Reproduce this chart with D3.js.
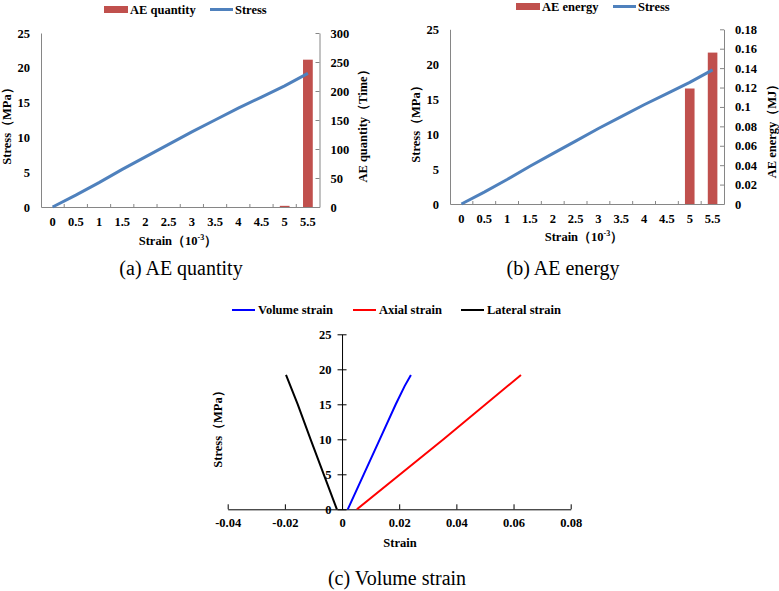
<!DOCTYPE html>
<html>
<head>
<meta charset="utf-8">
<script src="https://d3js.org/d3.v7.min.js"></script>
<style>
body { margin: 0; background: #fff; }
text { font-family: "Liberation Serif", "Times New Roman", serif; fill: #000; }
.bold { font-weight: bold; }
</style>
</head>
<body>
<div id="chart"></div>
<script>
// strain categories (10^-3) shared by panels a and b
var strainCats = ["0", "0.5", "1", "1.5", "2", "2.5", "3", "3.5", "4", "4.5", "5", "5.5"];
var stressVals = [0, 1.7, 3.5, 5.4, 7.2, 9.0, 10.8, 12.5, 14.2, 15.8, 17.4, 19.2];
var aeQuantity = [0, 0, 0, 0, 0, 0, 0, 0, 0, 0, 2, 254];
var aeEnergy = [0, 0, 0, 0, 0, 0, 0, 0, 0, 0, 0.119, 0.156];

var stressTicks = [0, 5, 10, 15, 20, 25];
var quantityTicks = [0, 50, 100, 150, 200, 250, 300];
var energyTicks = [0, 0.02, 0.04, 0.06, 0.08, 0.1, 0.12, 0.14, 0.16, 0.18];

// panel c: [strain, stress]
var volumeStrain = [[0.002, 0], [0.0076, 5], [0.0132, 10], [0.0188, 15], [0.0219, 17.6], [0.0241, 19.2]];
var axialStrain = [[0.0052, 0], [0.0355, 10], [0.0626, 19.2]];
var lateralStrain = [[-0.0018, 0], [-0.0064, 5], [-0.011, 10], [-0.0155, 15], [-0.0196, 19.2]];
var strainTicks = [-0.04, -0.02, 0, 0.02, 0.04, 0.06, 0.08];

var barColor = "#C0504D",
    lineColor = "#4F81BD",
    axisGray = "#868686",
    fs = 12.5;

var fmt = function (d) { return d3.format("~g")(d).replace("−", "-"); };

var svg = d3.select("#chart").append("svg")
    .attr("width", 779)
    .attr("height", 591);

function styleAxis(sel, color) {
    sel.select(".domain").attr("stroke", color);
    sel.selectAll(".tick line").attr("stroke", color);
    sel.selectAll(".tick text")
        .attr("class", "bold")
        .style("font-size", fs + "px")
        .style("font-family", "'Liberation Serif', serif")
        .attr("fill", "#000");
}

function strainTitle(g, x, y) {
    var t = g.append("text").attr("class", "bold")
        .attr("x", x).attr("y", y)
        .attr("text-anchor", "middle")
        .attr("dominant-baseline", "central")
        .style("font-size", fs + "px");
    t.append("tspan").text("Strain（10");
    t.append("tspan").attr("dy", -4).style("font-size", "8px").text("-3");
    t.append("tspan").attr("dy", 4).text("）");
}

function vTitle(g, x, y, txt) {
    g.append("text").attr("class", "bold")
        .attr("transform", "translate(" + x + "," + y + ") rotate(-90)")
        .attr("text-anchor", "middle")
        .attr("dominant-baseline", "central")
        .style("font-size", fs + "px")
        .text(txt);
}

function dualPanel(cfg) {
    var g = svg.append("g");
    var x = d3.scaleBand().domain(strainCats).range([cfg.left, cfg.right]);
    var bw = x.bandwidth();
    var yL = d3.scaleLinear().domain([0, 25]).range([cfg.bottom, cfg.top]);
    var yR = d3.scaleLinear().domain([0, cfg.rMax]).range([cfg.bottom, cfg.top]);

    // bars
    g.selectAll("rect.bar")
        .data(cfg.bars)
        .join("rect")
        .attr("class", "bar")
        .attr("x", function (d, i) { return x(strainCats[i]) + bw * 0.29; })
        .attr("width", bw * 0.42)
        .attr("y", function (d) { return yR(d); })
        .attr("height", function (d) { return cfg.bottom - yR(d); })
        .attr("fill", barColor);

    // axes
    var ax = g.append("g").attr("transform", "translate(" + cfg.left + ",0)")
        .call(d3.axisLeft(yL).tickValues(stressTicks).tickSize(0).tickPadding(11));
    styleAxis(ax, axisGray);

    var ar = g.append("g").attr("transform", "translate(" + cfg.right + ",0)")
        .call(d3.axisRight(yR).tickValues(cfg.rTicks).tickSizeInner(-4).tickSizeOuter(0)
            .tickPadding(11).tickFormat(fmt));
    styleAxis(ar, axisGray);

    var ab = g.append("g").attr("transform", "translate(0," + cfg.bottom + ")")
        .call(d3.axisBottom(x).tickSize(0).tickPadding(cfg.xPad));
    styleAxis(ab, axisGray);
    ab.selectAll(".tick line").remove();

    // category boundary ticks
    g.selectAll("line.bt")
        .data(strainCats.slice(1))
        .join("line")
        .attr("x1", function (d) { return x(d); })
        .attr("x2", function (d) { return x(d); })
        .attr("y1", cfg.bottom)
        .attr("y2", cfg.bottom - 3)
        .attr("stroke", axisGray);

    // stress line
    var line = d3.line()
        .x(function (d, i) { return x(strainCats[i]) + bw / 2; })
        .y(function (d) { return yL(d); });
    g.append("path")
        .datum(stressVals)
        .attr("d", line)
        .attr("fill", "none")
        .attr("stroke", lineColor)
        .attr("stroke-width", 3);

    // titles
    vTitle(g, cfg.lTitleX, cfg.lTitleY, "Stress（MPa）");
    vTitle(g, cfg.rTitleX, cfg.rTitleY, cfg.rTitle);
    strainTitle(g, cfg.sx, cfg.sy);

    // legend
    var ly = cfg.legY;
    g.append("rect").attr("x", cfg.legX).attr("y", ly - 3.5).attr("width", 24).attr("height", 7).attr("fill", barColor);
    g.append("text").attr("class", "bold").attr("x", cfg.legX + 26).attr("y", ly)
        .attr("dominant-baseline", "central").style("font-size", fs + "px").text(cfg.legLabel);
    g.append("line").attr("x1", cfg.legX2).attr("x2", cfg.legX2 + 23).attr("y1", ly).attr("y2", ly)
        .attr("stroke", lineColor).attr("stroke-width", 3);
    g.append("text").attr("class", "bold").attr("x", cfg.legX2 + 25).attr("y", ly)
        .attr("dominant-baseline", "central").style("font-size", fs + "px").text("Stress");

    // caption
    g.append("text").attr("x", cfg.capX).attr("y", 268)
        .attr("text-anchor", "middle").attr("dominant-baseline", "central")
        .style("font-size", "20px").text(cfg.caption);
}

dualPanel({
    left: 41, right: 319.5, top: 33, bottom: 207, xPad: 10,
    bars: aeQuantity, rMax: 300, rTicks: quantityTicks,
    rTitle: "AE quantity（Time）",
    lTitleX: 7, lTitleY: 123, rTitleX: 363, rTitleY: 123,
    sx: 178, sy: 241,
    legX: 104, legX2: 210, legY: 9.5, legLabel: "AE quantity",
    capX: 181, caption: "(a) AE quantity"
});

dualPanel({
    left: 450, right: 724, top: 29.3, bottom: 204, xPad: 10,
    bars: aeEnergy, rMax: 0.18, rTicks: energyTicks,
    rTitle: "AE energy（MJ）",
    lTitleX: 416, lTitleY: 121, rTitleX: 772, rTitleY: 128,
    sx: 584, sy: 237,
    legX: 516, legX2: 613, legY: 6.5, legLabel: "AE energy",
    capX: 563, caption: "(b) AE energy"
});

// panel c
var gc = svg.append("g");
var xc = d3.scaleLinear().domain([-0.04, 0.08]).range([227.7, 570.7]);
var yc = d3.scaleLinear().domain([0, 25]).range([509.3, 334.3]);

var axc = gc.append("g").attr("transform", "translate(0," + yc(0) + ")")
    .call(d3.axisBottom(xc).tickValues(strainTicks).tickSizeInner(-5).tickSizeOuter(0)
        .tickPadding(9).tickFormat(fmt));
styleAxis(axc, "#000");

var ayc = gc.append("g").attr("transform", "translate(" + xc(0) + ",0)")
    .call(d3.axisLeft(yc).tickValues(stressTicks).tickSizeInner(4).tickSizeOuter(0).tickPadding(6.5));
styleAxis(ayc, "#000");
ayc.selectAll(".tick line").attr("x2", -4.5).attr("x1", 4.5);

var lineC = d3.line()
    .x(function (d) { return xc(d[0]); })
    .y(function (d) { return yc(d[1]); });

var seriesC = [
    { name: "Volume strain", color: "#0000FF", data: volumeStrain, lx: 232 },
    { name: "Axial strain", color: "#FF0000", data: axialStrain, lx: 353 },
    { name: "Lateral strain", color: "#000000", data: lateralStrain, lx: 461 }
];

seriesC.forEach(function (s) {
    gc.append("path")
        .datum(s.data)
        .attr("d", lineC)
        .attr("fill", "none")
        .attr("stroke", s.color)
        .attr("stroke-width", 2);
    gc.append("line").attr("x1", s.lx).attr("x2", s.lx + 23).attr("y1", 310).attr("y2", 310)
        .attr("stroke", s.color).attr("stroke-width", 2);
    gc.append("text").attr("class", "bold").attr("x", s.lx + 26).attr("y", 310)
        .attr("dominant-baseline", "central").style("font-size", fs + "px").text(s.name);
});

vTitle(gc, 218, 426, "Stress（MPa）");
gc.append("text").attr("class", "bold").attr("x", 400).attr("y", 543)
    .attr("text-anchor", "middle").attr("dominant-baseline", "central")
    .style("font-size", fs + "px").text("Strain");
gc.append("text").attr("x", 397).attr("y", 578)
    .attr("text-anchor", "middle").attr("dominant-baseline", "central")
    .style("font-size", "20px").text("(c) Volume strain");
</script>
</body>
</html>
